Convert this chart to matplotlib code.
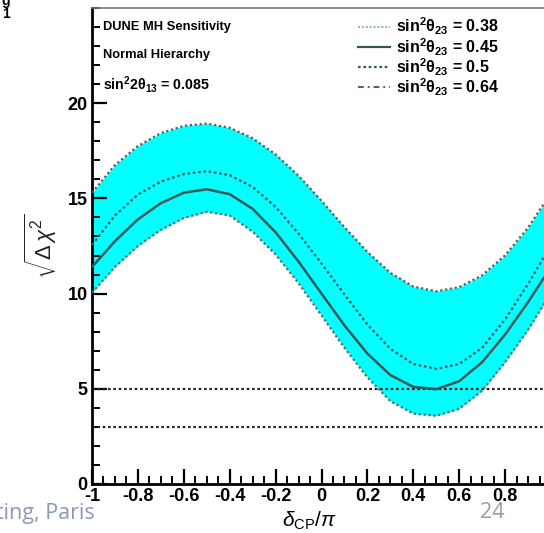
import matplotlib
matplotlib.use("Agg")
import matplotlib.pyplot as plt
from matplotlib.ticker import MultipleLocator
from matplotlib.lines import Line2D

plt.rcParams['font.family'] = ['Liberation Sans', 'DejaVu Sans']
plt.rcParams['mathtext.fontset'] = 'custom'
plt.rcParams['mathtext.rm'] = 'Liberation Sans'
plt.rcParams['mathtext.it'] = 'Liberation Sans:italic'
plt.rcParams['mathtext.bf'] = 'Liberation Sans:bold'

# delta_CP / pi
delta = [-1.0, -0.9, -0.8, -0.7, -0.6, -0.5, -0.4, -0.3, -0.2, -0.1, 0.0,
         0.1, 0.2, 0.3, 0.4, 0.5, 0.6, 0.7, 0.8, 0.9, 1.0]
s038 = [10.05, 11.4, 12.5, 13.35, 13.97, 14.3, 14.1, 13.25, 12.05, 10.55, 8.85,
        7.15, 5.6, 4.35, 3.7, 3.58, 3.95, 4.9, 6.4, 8.1, 10.05]
s045 = [11.4, 12.75, 13.9, 14.75, 15.3, 15.48, 15.22, 14.45, 13.22, 11.68, 10.0,
        8.33, 6.85, 5.72, 5.1, 4.98, 5.4, 6.4, 7.85, 9.55, 11.4]
s050 = [12.55, 14.1, 15.2, 15.88, 16.28, 16.43, 16.22, 15.6, 14.55, 13.15, 11.58,
        9.95, 8.38, 7.1, 6.3, 6.05, 6.3, 7.15, 8.65, 10.5, 12.55]
s064 = [15.3, 16.75, 17.75, 18.43, 18.81, 18.93, 18.71, 18.16, 17.31, 16.19, 14.87,
        13.49, 12.19, 11.09, 10.37, 10.12, 10.34, 10.96, 12.01, 13.46, 15.3]
sigma_lines = [5, 3]
labels = [r'sin$^{\mathbf{2}}\mathbf{\theta}_{\mathbf{23}}$ = 0.38',
          r'sin$^{\mathbf{2}}\mathbf{\theta}_{\mathbf{23}}$ = 0.45',
          r'sin$^{\mathbf{2}}\mathbf{\theta}_{\mathbf{23}}$ = 0.5',
          r'sin$^{\mathbf{2}}\mathbf{\theta}_{\mathbf{23}}$ = 0.64']
xticks = [-1, -0.8, -0.6, -0.4, -0.2, 0, 0.2, 0.4, 0.6, 0.8]
xtick_labels = ['-1', '-0.8', '-0.6', '-0.4', '-0.2', '0', '0.2', '0.4', '0.6', '0.8']
yticks = [0, 5, 10, 15, 20]

W, H = 544, 533
fig = plt.figure(figsize=(W / 100, H / 100), dpi=100)
ax = fig.add_axes([92 / W, 49 / H, 459 / W, 476 / H])

ax.fill_between(delta, s038, s064, color='#00FFFF', lw=0, zorder=1)
ax.plot(delta, s038, color='#606868', lw=1.6, ls=(0, (1, 1.2)), zorder=3)
ax.plot(delta, s045, color='#3a5656', lw=1.8, ls='-', zorder=3)
ax.plot(delta, s050, color='#485a5a', lw=1.6, ls=(0, (1.2, 1.2)), zorder=3)
ax.plot(delta, s064, color='#585f5f', lw=1.6, ls=(0, (1, 1.2)), zorder=3)
for v in sigma_lines:
    ax.axhline(v, color='#222222', lw=1.6, ls=(0, (1.2, 1.2)), zorder=2)

ax.set_xlim(-1, 1)
ax.set_ylim(0, 25)
ax.set_xticks(xticks)
ax.set_xticklabels(xtick_labels)
ax.set_yticks(yticks)
ax.xaxis.set_minor_locator(MultipleLocator(0.05))
ax.yaxis.set_minor_locator(MultipleLocator(1))
ax.tick_params(which='major', direction='in', length=11, width=1.6,
               labelsize=13, pad=3, top=False, right=False)
ax.tick_params(which='minor', direction='in', length=6, width=1.4,
               top=False, right=False)
for lab in ax.get_xticklabels() + ax.get_yticklabels():
    lab.set_fontweight('bold')
ax.spines['left'].set_linewidth(2)
ax.spines['bottom'].set_linewidth(2)
ax.spines['top'].set_linewidth(1.2)
ax.spines['top'].set_color('#777777')
ax.spines['right'].set_visible(False)

fig.text(41 / W, 1 - 246 / H, r'$\sqrt{\Delta\,\chi^{2}}$', fontsize=16,
         rotation=90, ha='center', va='center', color='#222222')
fig.text(309 / W, 1 - 521 / H, r'$\delta_{\rm CP}/\pi$', fontsize=15,
         ha='center', va='center')

fig.text(103 / W, 1 - 27 / H, 'DUNE MH Sensitivity', fontsize=9.3,
         fontweight='bold', va='center')
fig.text(103 / W, 1 - 55 / H, 'Normal Hierarchy', fontsize=9.3,
         fontweight='bold', va='center')
fig.text(103 / W, 1 - 84 / H,
         r'sin$^{\mathbf{2}}$2$\mathbf{\theta}_{\mathbf{13}}$ = 0.085',
         fontsize=10.2, fontweight='bold', va='center')

handles = [
    Line2D([], [], color='#8fb0b0', lw=1.4, ls=(0, (1, 1))),
    Line2D([], [], color='#2f5555', lw=1.6, ls='-'),
    Line2D([], [], color='#2f6060', lw=1.6, ls=(0, (1.2, 1.2))),
    Line2D([], [], color='#3f6a6a', lw=1.4, ls=(0, (3, 2, 1, 2))),
]
leg = ax.legend(handles, labels, loc='upper left', frameon=False,
                bbox_to_anchor=(350 / W, 1 - 8 / H), bbox_transform=fig.transFigure,
                fontsize=11.5, handlelength=2.0, handletextpad=0.4,
                labelspacing=-0.08, borderpad=0)
for t in leg.get_texts():
    t.set_fontweight('bold')

# slide overlay texts
fig.text(-4 / W, 1 - 514 / H, 'ting, Paris', fontsize=15.5, color='#8b9ab3',
         family=['Open Sans', 'DejaVu Sans'], va='center')
fig.text(492 / W, 1 - 512 / H, '24', fontsize=15.5, color='#9a9aa8',
         family=['Open Sans', 'DejaVu Sans'], va='center', ha='center')
fig.text(2 / W, 1 - 14 / H, '1', fontsize=10, fontweight='bold', va='center')
fig.text(1 / W, 1 - 1 / H, 'g', fontsize=10, fontweight='bold', va='center')

fig.savefig('out.png', dpi=100)
